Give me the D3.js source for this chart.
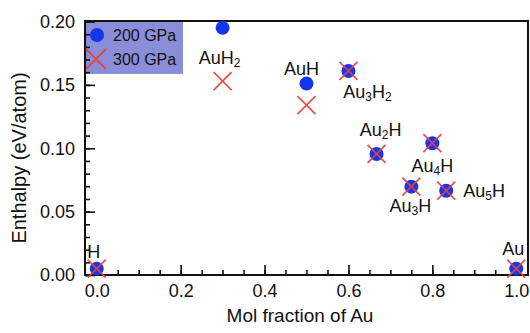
<!doctype html>
<html lang="en">
    <head>
        <meta charset="utf-8">
        <title>Enthalpy vs mol fraction of Au</title>
        <script type="text/javascript" src="https://cdn.jsdelivr.net/npm/d3@7"></script>
        <style>
            body { margin: 0; background: #fff; }
            svg { display: block; font-family: "Liberation Sans", Arial, Helvetica, sans-serif; }
            .axis text { font-size: 18px; fill: #111; }
            .axis line { stroke: #111; stroke-width: 1.6px; }
            .axis path { display: none; }
            .lbl { font-size: 18px; fill: #111; }
        </style>
    </head>
    <body>
        <script type="text/javascript">
            // data
            var compounds = ["H", "AuH2", "AuH", "Au3H2", "Au2H", "Au4H", "Au3H", "Au5H", "Au"];
            var fracAu    = [0.0, 0.3, 0.5, 0.6, 0.667, 0.8, 0.75, 0.833, 1.0];
            var h200      = [0.005, 0.195, 0.151, 0.161, 0.0955, 0.104, 0.0697, 0.0665, 0.005];
            var h300      = [0.005, 0.153, 0.134, 0.161, 0.0955, 0.104, 0.0697, 0.0665, 0.005];
            var seriesNames = ["200 GPa", "300 GPa"];
            var xTicks = [0, 0.2, 0.4, 0.6, 0.8, 1.0];
            var yTicks = [0, 0.05, 0.10, 0.15, 0.20];

            // label text pieces ([text, isSubscript]) and offsets from the 200 GPa point
            var labelParts = {
                "H": [["H", 0]],
                "AuH2": [["AuH", 0], ["2", 1]],
                "AuH": [["AuH", 0]],
                "Au3H2": [["Au", 0], ["3", 1], ["H", 0], ["2", 1]],
                "Au2H": [["Au", 0], ["2", 1], ["H", 0]],
                "Au4H": [["Au", 0], ["4", 1], ["H", 0]],
                "Au3H": [["Au", 0], ["3", 1], ["H", 0]],
                "Au5H": [["Au", 0], ["5", 1], ["H", 0]],
                "Au": [["Au", 0]]
            };
            var labelOffset = {
                "H": [-3, -11], "AuH2": [-3, 36], "AuH": [-5, -9], "Au3H2": [19, 27],
                "Au2H": [4, -18], "Au4H": [0, 29], "Au3H": [-1, 25], "Au5H": [38, 6], "Au": [-3, -14]
            };

            var W = 530, H = 333;
            var pL = 85, pR = 528, pT = 21, pB = 275;

            var dataset = compounds.map(function(c, i) {
                return {name: c, x: fracAu[i], a: h200[i], b: h300[i]};
            });

            var xScale = d3.scaleLinear().domain([-0.028, 1.028]).range([pL, pR]);
            var yScale = d3.scaleLinear().domain([0, 0.2]).range([pB, pT + 0.5]);

            var svg = d3.select("body").append("svg")
                        .attr("width", W)
                        .attr("height", H);

            // legend box
            svg.append("rect")
               .attr("x", pL).attr("y", pT)
               .attr("width", 98).attr("height", 53)
               .attr("fill", "#8a8ed8");

            // minor ticks
            svg.append("g")
               .attr("class", "axis")
               .attr("transform", "translate(0," + pB + ")")
               .call(d3.axisBottom(xScale).tickValues(d3.range(0, 21).map(d => d * 0.05)).tickSize(-5).tickFormat(""));
            svg.append("g")
               .attr("class", "axis")
               .attr("transform", "translate(" + pL + ",0)")
               .call(d3.axisLeft(yScale).tickValues(d3.range(0, 21).map(d => d * 0.01)).tickSize(-5).tickFormat(""));

            // major ticks
            svg.append("g")
               .attr("class", "axis")
               .attr("transform", "translate(0," + pB + ")")
               .call(d3.axisBottom(xScale).tickValues(xTicks).tickSize(-10).tickPadding(9).tickFormat(d3.format(".1f")));
            svg.append("g")
               .attr("class", "axis")
               .attr("transform", "translate(" + pL + ",0)")
               .call(d3.axisLeft(yScale).tickValues(yTicks).tickSize(-10).tickPadding(10).tickFormat(d3.format(".2f")));

            // frame
            svg.append("rect")
               .attr("x", pL).attr("y", pT)
               .attr("width", pR - pL).attr("height", pB - pT)
               .attr("fill", "none")
               .attr("stroke", "#111")
               .attr("stroke-width", 2);

            var blue = "#1436ee", red = "#e8403a";

            function cross(g, cx, cy, s) {
                g.append("path")
                 .attr("d", "M" + (cx - s) + "," + (cy - s) + "L" + (cx + s) + "," + (cy + s) +
                            "M" + (cx - s) + "," + (cy + s) + "L" + (cx + s) + "," + (cy - s))
                 .attr("stroke", red)
                 .attr("stroke-width", 1.8)
                 .attr("stroke-opacity", 0.9)
                 .attr("fill", "none");
            }

            // 200 GPa points
            svg.append("g").selectAll("circle")
               .data(dataset)
               .enter().append("circle")
               .attr("cx", d => xScale(d.x))
               .attr("cy", d => yScale(d.a))
               .attr("r", 7)
               .attr("fill", blue);

            // 300 GPa points
            var xs = svg.append("g");
            dataset.forEach(function(d) { cross(xs, xScale(d.x), yScale(d.b), 9); });

            // labels
            dataset.forEach(function(d) {
                var off = labelOffset[d.name];
                var t = svg.append("text")
                           .attr("class", "lbl")
                           .attr("x", xScale(d.x) + off[0])
                           .attr("y", yScale(d.a) + off[1])
                           .attr("text-anchor", "middle");
                var shifted = false;
                labelParts[d.name].forEach(function(p) {
                    var ts = t.append("tspan").text(p[0]);
                    if (p[1]) {
                        ts.attr("font-size", "12px").attr("dy", shifted ? 0 : 3);
                        shifted = true;
                    } else if (shifted) {
                        ts.attr("dy", -3);
                        shifted = false;
                    }
                });
            });

            // legend entries
            svg.append("circle")
               .attr("cx", 97).attr("cy", 35).attr("r", 7)
               .attr("fill", blue);
            cross(svg, 96, 59, 10);
            svg.append("text").attr("class", "lbl").attr("x", 113).attr("y", 41)
               .style("font-size", "16px").text(seriesNames[0]);
            svg.append("text").attr("class", "lbl").attr("x", 113).attr("y", 65)
               .style("font-size", "16px").text(seriesNames[1]);

            // axis titles
            svg.append("text")
               .attr("class", "lbl")
               .attr("x", 300)
               .attr("y", 322)
               .attr("text-anchor", "middle")
               .style("font-size", "19px")
               .text("Mol fraction of Au");
            svg.append("text")
               .attr("class", "lbl")
               .attr("transform", "translate(26," + 158 + ") rotate(-90)")
               .attr("text-anchor", "middle")
               .style("font-size", "20px")
               .text("Enthalpy (eV/atom)");
        </script>
    </body>
</html>
